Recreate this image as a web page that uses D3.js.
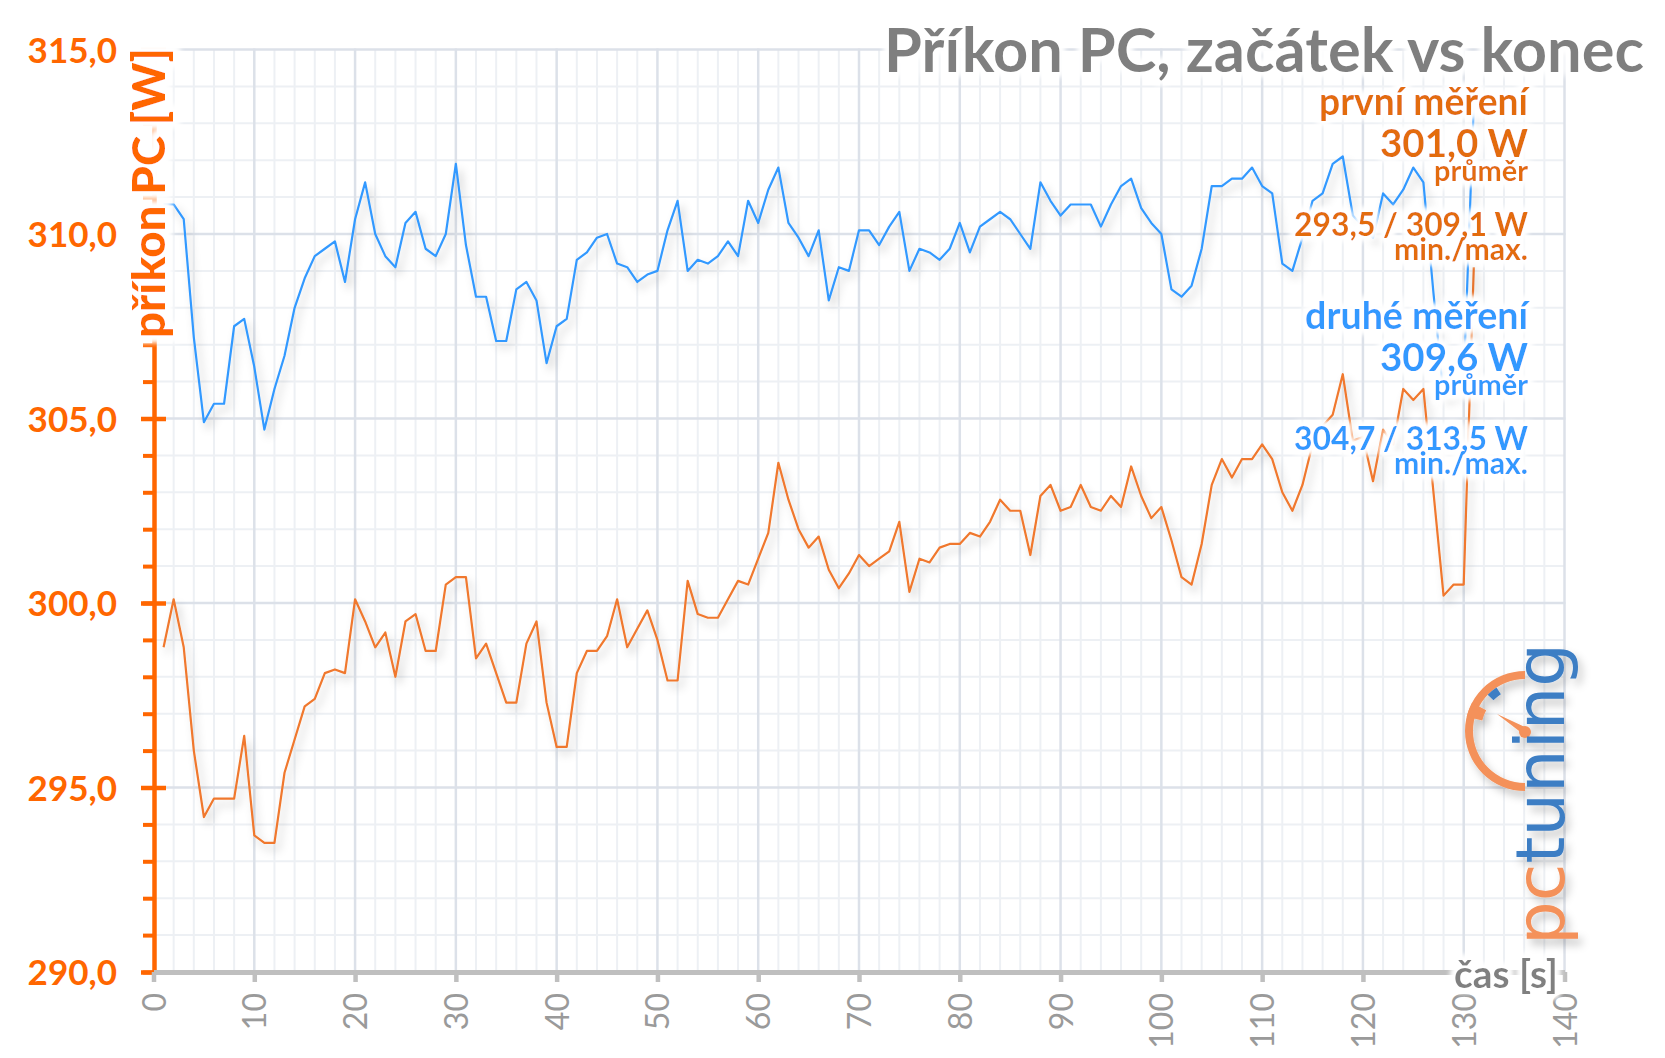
<!DOCTYPE html>
<html><head><meta charset="utf-8">
<script src="https://cdn.jsdelivr.net/npm/d3@7/dist/d3.min.js"></script>
<style>
html,body{margin:0;padding:0;background:#fff;}
svg{display:block;}
</style></head><body>
<svg id="chart" width="1665" height="1058"></svg>
<script>
// ---------- DATA ----------
const startTime = 1; // first sample is at 1 s, one sample per second
// první měření (first measurement) – orange
const firstRun = [
298.8,300.1,298.8,296.0,294.2,294.7,294.7,294.7,296.4,293.7,
293.5,293.5,295.4,296.3,297.2,297.4,298.1,298.2,298.1,300.1,
299.5,298.8,299.2,298.0,299.5,299.7,298.7,298.7,300.5,300.7,
300.7,298.5,298.9,298.1,297.3,297.3,298.9,299.5,297.3,296.1,
296.1,298.1,298.7,298.7,299.1,300.1,298.8,299.3,299.8,299.0,
297.9,297.9,300.6,299.7,299.6,299.6,300.1,300.6,300.5,301.2,
301.9,303.8,302.8,302.0,301.5,301.8,300.9,300.4,300.8,301.3,
301.0,301.2,301.4,302.2,300.3,301.2,301.1,301.5,301.6,301.6,
301.9,301.8,302.2,302.8,302.5,302.5,301.3,302.9,303.2,302.5,
302.6,303.2,302.6,302.5,302.9,302.6,303.7,302.9,302.3,302.6,
301.7,300.7,300.5,301.6,303.2,303.9,303.4,303.9,303.9,304.3,
303.9,303.0,302.5,303.2,304.3,304.8,305.1,306.2,304.4,304.5,
303.3,304.7,304.3,305.8,305.5,305.8,303.0,300.2,300.5,300.5,
309.1];
// druhé měření (second measurement) – blue
const secondRun = [
310.8,310.8,310.4,307.2,304.9,305.4,305.4,307.5,307.7,306.4,
304.7,305.8,306.7,308.0,308.8,309.4,309.6,309.8,308.7,310.4,
311.4,310.0,309.4,309.1,310.3,310.6,309.6,309.4,310.0,311.9,
309.7,308.3,308.3,307.1,307.1,308.5,308.7,308.2,306.5,307.5,
307.7,309.3,309.5,309.9,310.0,309.2,309.1,308.7,308.9,309.0,
310.1,310.9,309.0,309.3,309.2,309.4,309.8,309.4,310.9,310.3,
311.2,311.8,310.3,309.9,309.4,310.1,308.2,309.1,309.0,310.1,
310.1,309.7,310.2,310.6,309.0,309.6,309.5,309.3,309.6,310.3,
309.5,310.2,310.4,310.6,310.4,310.0,309.6,311.4,310.9,310.5,
310.8,310.8,310.8,310.2,310.8,311.3,311.5,310.7,310.3,310.0,
308.5,308.3,308.6,309.6,311.3,311.3,311.5,311.5,311.8,311.3,
311.1,309.2,309.0,309.9,310.9,311.1,311.9,312.1,310.5,310.2,
309.9,311.1,310.8,311.2,311.8,311.4,308.4,305.6,305.7,306.0,
313.5];
const xTickValues = [0,10,20,30,40,50,60,70,80,90,100,110,120,130,140];
const yTickValues = [290,295,300,305,310,315];
const seriesNames = ["první měření","druhé měření"];
const seriesAvg = ["301,0 W","309,6 W"];
const seriesMinMax = ["293,5 / 309,1 W","304,7 / 313,5 W"];
const avgLabel = "průměr";
const minMaxLabel = "min./max.";
const chartTitle = "Příkon PC, začátek vs konec";
const yTitle = "příkon PC [W]";
const xTitle = "čas [s]";

// ---------- SETUP ----------
const FONT = "Lato, 'Open Sans', sans-serif";
const svg = d3.select("#chart");
const defs = svg.append("defs");
const sh = defs.append("filter").attr("id","shadow")
  .attr("x","-5%").attr("y","-10%").attr("width","115%").attr("height","125%");
sh.append("feDropShadow").attr("dx",4).attr("dy",6).attr("stdDeviation",4)
  .attr("flood-color","#000").attr("flood-opacity",0.22);
function glowFilter(id, r, s){
  const gl = defs.append("filter").attr("id",id)
    .attr("x","-20%").attr("y","-60%").attr("width","140%").attr("height","220%");
  gl.append("feMorphology").attr("in","SourceAlpha").attr("operator","dilate").attr("radius",r).attr("result","d");
  gl.append("feGaussianBlur").attr("in","d").attr("stdDeviation",s).attr("result","b");
  gl.append("feFlood").attr("flood-color","#fff").attr("result","f");
  gl.append("feComposite").attr("in","f").attr("in2","b").attr("operator","in").attr("result","w");
  const gm = gl.append("feMerge");
  gm.append("feMergeNode").attr("in","w");
  gm.append("feMergeNode").attr("in","w");
  gm.append("feMergeNode").attr("in","w");
  gm.append("feMergeNode").attr("in","SourceGraphic");
}
glowFilter("glow", 3, 3);
glowFilter("glowStrong", 5, 3);

const x = d3.scaleLinear().domain([0,140]).range([153.5,1564.5]);
const y = d3.scaleLinear().domain([290,315]).range([972,49.5]);

function fit(sel, w){
  sel.each(function(){
    const fs = parseFloat(this.getAttribute("font-size"));
    const L = this.getComputedTextLength();
    if (L > 0) this.setAttribute("font-size", (fs*w/L).toFixed(2));
  });
}

// ---------- GRID ----------
const grid = svg.append("g");
const xMinor = d3.range(x.domain()[0]+2, x.domain()[1], 2).filter(v => v % 10 !== 0);
const yMinor = d3.range(y.domain()[0]+1, y.domain()[1], 1).filter(v => v % 5 !== 0);
grid.selectAll(".vmin").data(xMinor).join("line")
  .attr("x1",d=>x(d)).attr("x2",d=>x(d)).attr("y1",y(315)).attr("y2",y(290))
  .attr("stroke","#edf0f4").attr("stroke-width",2);
grid.selectAll(".hmin").data(yMinor).join("line")
  .attr("y1",d=>y(d)).attr("y2",d=>y(d)).attr("x1",x(0)).attr("x2",x(140))
  .attr("stroke","#edf0f4").attr("stroke-width",2);
grid.selectAll(".vmaj").data(xTickValues.slice(1)).join("line")
  .attr("x1",d=>x(d)).attr("x2",d=>x(d)).attr("y1",y(315)-1).attr("y2",y(290))
  .attr("stroke","#dce1e9").attr("stroke-width",2.5);
grid.selectAll(".hmaj").data(yTickValues.slice(1)).join("line")
  .attr("y1",d=>y(d)).attr("y2",d=>y(d)).attr("x1",x(0)).attr("x2",x(140)+1)
  .attr("stroke","#dce1e9").attr("stroke-width",2.5);

// ---------- SERIES ----------
const line = d3.line().x((d,i)=>x(i+startTime)).y(d=>y(d));
svg.append("path").datum(firstRun).attr("d",line).attr("fill","none")
  .attr("stroke","#F0782D").attr("stroke-width",2.2).attr("stroke-linejoin","round")
  .attr("filter","url(#shadow)");
svg.append("path").datum(secondRun).attr("d",line).attr("fill","none")
  .attr("stroke","#3399FF").attr("stroke-width",2.2).attr("stroke-linejoin","round")
  .attr("filter","url(#shadow)");

// ---------- LOGO ----------
const logo = svg.append("g").attr("filter","url(#shadow)");
const cx = 1525, cy = 731;
logo.append("path").attr("transform",`translate(${cx},${cy})`)
  .attr("d", d3.arc().innerRadius(52).outerRadius(60).startAngle(-Math.PI).endAngle(0)())
  .attr("fill","#F4915A");
logo.append("path").attr("transform",`translate(${cx},${cy})`)
  .attr("d", d3.arc().innerRadius(44).outerRadius(60).startAngle(-1.33).endAngle(-1.08)())
  .attr("fill","#F4915A");
logo.append("path").attr("transform",`translate(${cx},${cy})`)
  .attr("d", d3.arc().innerRadius(44).outerRadius(52).startAngle(-0.80).endAngle(-0.58)())
  .attr("fill","#3D7EC4");
logo.append("path").attr("d",`M${cx-28},${cy-17} L${cx+2},${cy-3} L${cx-2},${cy+3} Z`).attr("fill","#F4915A");
logo.append("circle").attr("cx",cx).attr("cy",cy+1).attr("r",6).attr("fill","#F4915A");
const lt = logo.append("text").attr("transform","translate(1564,945) rotate(-90)")
  .attr("x",0).attr("y",0).attr("font-family","'DejaVu Sans', sans-serif").attr("font-weight",400)
  .attr("font-size",68).attr("textLength",302).attr("lengthAdjust","spacingAndGlyphs");
lt.append("tspan").attr("fill","#F4915A").text("pc");
lt.append("tspan").attr("fill","#3D7EC4").text("tuning");

// ---------- AXES ----------
const fmt = d => d3.format(".1f")(d).replace(".", ",");
const gyMin = svg.append("g").attr("transform","translate(154,0)")
  .call(d3.axisLeft(y).tickValues(d3.range(290,316,1)).tickSize(11).tickSizeOuter(0).tickFormat(""));
gyMin.select(".domain").remove();
gyMin.selectAll(".tick line").attr("stroke","#FF6600").attr("stroke-width",4);

const gy = svg.append("g").attr("transform","translate(154,0)")
  .call(d3.axisLeft(y).tickValues(yTickValues).tickSizeInner(13).tickSizeOuter(0).tickPadding(24).tickFormat(fmt));
gy.select(".domain").attr("stroke","#FF6600").attr("stroke-width",4.5);
gy.selectAll(".tick line").attr("x1",12).attr("stroke","#FF6600").attr("stroke-width",4.5);
gy.selectAll(".tick text").attr("fill","#FF6600").attr("font-family",FONT)
  .attr("font-weight",700).attr("font-size",35).attr("dy","0.36em");

const gx = svg.append("g").attr("transform","translate(0,972)")
  .call(d3.axisBottom(x).tickValues(xTickValues).tickSize(10).tickSizeOuter(0));
gx.select(".domain").attr("stroke","#BFBFBF").attr("stroke-width",5);
gx.selectAll(".tick line").attr("stroke","#BFBFBF").attr("stroke-width",4.5);
gx.selectAll(".tick text").attr("transform","rotate(-90)").attr("x",-21).attr("y",0)
  .attr("dy","0.36em").attr("text-anchor","end").attr("fill","#9a9a9a")
  .attr("font-family",FONT).attr("font-size",32);

// ---------- TITLES ----------
const yt = svg.append("text").attr("transform","rotate(-90)")
  .attr("x",-338).attr("y",165).attr("text-anchor","start")
  .attr("font-family",FONT).attr("font-weight",900).attr("font-size",44)
  .attr("fill","#FF6600").attr("filter","url(#glowStrong)").text(yTitle);
fit(yt, 290);

const xt = svg.append("text").attr("x",1558).attr("y",988).attr("text-anchor","end")
  .attr("font-family",FONT).attr("font-weight",700).attr("font-size",36)
  .attr("fill","#808080").attr("filter","url(#glow)").text(xTitle);
fit(xt, 104);

const tt = svg.append("text").attr("x",1644).attr("y",72).attr("text-anchor","end")
  .attr("font-family",FONT).attr("font-weight",700).attr("font-size",62)
  .attr("fill","#7F7F7F").attr("filter","url(#glow)").text(chartTitle);
fit(tt, 760);

// ---------- LEGEND ----------
const legendColors = ["#E36C0A","#3399FF"];
const blockTop = [115, 329];
const legX = 1528;
seriesNames.forEach((name, i) => {
  const g = svg.append("g").attr("fill",legendColors[i]).attr("font-family",FONT)
    .attr("font-weight",700).attr("text-anchor","end").attr("filter","url(#glow)");
  const b = blockTop[i];
  fit(g.append("text").attr("x",legX).attr("y",b).attr("font-size",34).text(name), i===0?209:223);
  fit(g.append("text").attr("x",legX).attr("y",b+42).attr("font-size",42).text(seriesAvg[i]), 148);
  fit(g.append("text").attr("x",legX).attr("y",b+65.5).attr("font-size",26).text(avgLabel), 94);
  fit(g.append("text").attr("x",legX).attr("y",b+121).attr("font-size",34).text(seriesMinMax[i]), 234);
  fit(g.append("text").attr("x",legX).attr("y",b+144.5).attr("font-size",26).text(minMaxLabel), 134);
});
</script>
</body></html>
